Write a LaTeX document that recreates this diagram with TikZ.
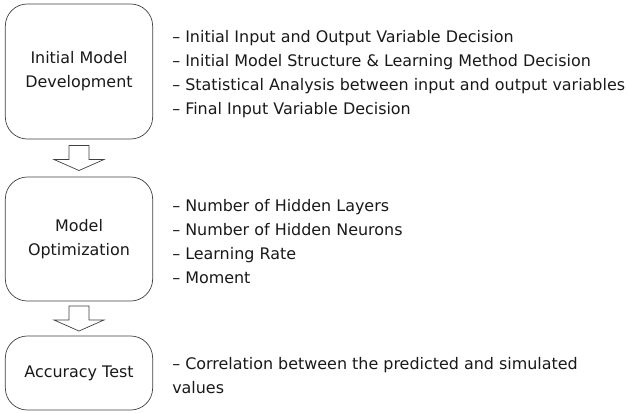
\documentclass[tikz,border=0pt]{standalone}
\usepackage{fontspec}
\setmainfont{DejaVu Sans}
\usepackage{tikz}
\usetikzlibrary{positioning,calc}

\begin{document}
\begin{tikzpicture}[
  x=0.03cm, y=-0.03cm,
  font=\fontsize{13.6}{20.5}\selectfont, node distance=0.57cm,
  box/.style={draw=black!75, line width=0.6pt, rounded corners=0.66cm, align=center,
    minimum width=4.42cm, text=black!90},
  list/.style={align=left, inner sep=0pt, text=black!90, yshift=-0.08cm},
  hollow/.style={draw=black!75, line width=0.6pt, fill=white}]
  \useasboundingbox (0,0) rectangle (629,412);
  \node[box, minimum height=4.05cm] (init) at (79,71.5) {Initial Model\\Development};
  \node[box, minimum height=3.72cm] (opt) at (79,239) {Model\\Optimization};
  \node[box, minimum height=2.22cm] (acc) at (79,373) {Accuracy Test};
  \node[list, right=of init] (initlist) {– Initial Input and Output Variable Decision\\
    – Initial Model Structure \& Learning Method Decision\\
    – Statistical Analysis between input and output variables\\
    – Final Input Variable Decision};
  \node[list, right=of opt] (optlist) {– Number of Hidden Layers\\
    – Number of Hidden Neurons\\
    – Learning Rate\\
    – Moment};
  \node[list, right=of acc] (acclist)
    {– Correlation between the predicted and simulated\\values};
  % hollow block arrows between the stages
  \coordinate (m1) at ($(init.south)!0.5!(opt.north)$);
  \coordinate (m2) at ($(opt.south)!0.5!(acc.north)$);
  \foreach \m in {m1,m2}
    \draw[hollow, shift={(\m)}] (-10,-12.5) -- (10,-12.5) -- (10,1.5) -- (25,1.5)
      -- (0,12.5) -- (-25,1.5) -- (-10,1.5) -- cycle;
\end{tikzpicture}
\end{document}
